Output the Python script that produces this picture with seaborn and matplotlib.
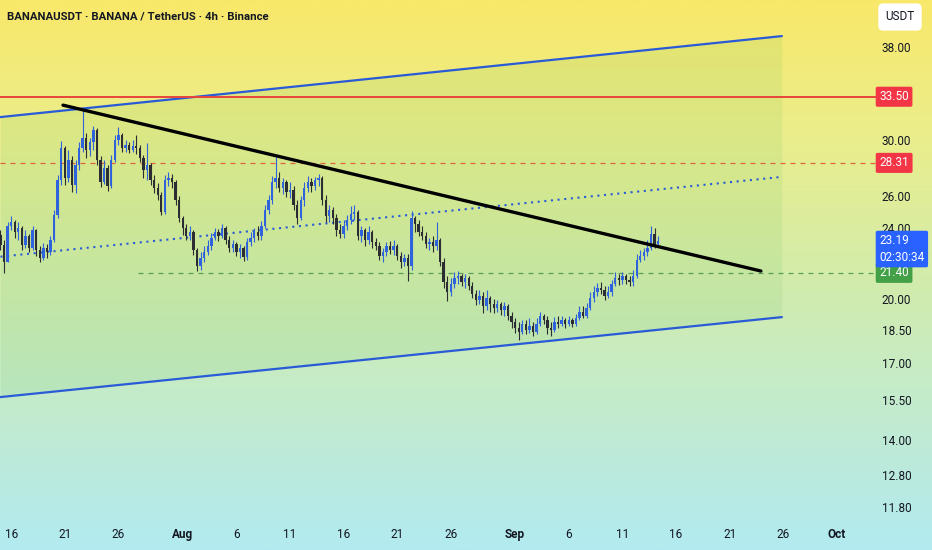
import numpy as np
import pandas as pd
import seaborn as sns
import matplotlib.pyplot as plt
import matplotlib.dates as mdates
import matplotlib.transforms as mtransforms
from matplotlib import font_manager
from matplotlib.colors import LinearSegmentedColormap
from matplotlib.ticker import FuncFormatter, NullLocator

# BANANAUSDT candles (8h steps from Jul 15 2024)
first_open = 23.56
close = [22.97, 22.00, 24.11, 24.36, 23.74, 23.99, 22.97, 23.50, 22.79, 23.86, 22.68, 22.22, 22.79, 22.56, 23.26,
         24.79, 27.10, 29.40, 27.24, 28.51, 26.76, 28.16, 29.40, 30.15, 29.25, 29.85, 30.77, 28.51, 26.96, 27.94,
         26.69, 28.51, 30.00, 30.38, 29.40, 29.62, 29.25, 29.55, 29.40, 28.66, 27.80, 28.16, 27.10, 26.56, 26.09,
         24.98, 27.10, 27.24, 26.96, 25.75, 24.61, 23.99, 23.50, 23.74, 22.68, 21.78, 22.22, 22.56, 22.91, 23.38,
         23.74, 23.50, 23.99, 23.26, 22.79, 23.03, 22.56, 22.79, 22.28, 23.14, 23.38, 23.74, 23.50, 24.11, 25.11,
         25.75, 26.96, 27.24, 26.56, 26.96, 26.29, 26.42, 25.43, 24.61, 25.75, 26.56, 26.96, 26.69, 27.10, 27.24,
         25.75, 24.73, 25.11, 24.61, 23.86, 23.62, 24.11, 24.48, 24.86, 24.98, 23.50, 23.86, 23.26, 23.74, 23.14,
         22.91, 22.33, 22.56, 22.91, 22.68, 22.91, 22.33, 22.00, 22.22, 21.78, 24.61, 24.24, 23.74, 23.50, 23.03,
         23.14, 22.91, 23.26, 22.00, 20.91, 20.38, 20.80, 21.12, 21.22, 20.91, 21.12, 20.70, 20.28, 19.97, 20.18,
         19.67, 20.07, 19.77, 19.57, 19.77, 19.47, 19.67, 19.17, 18.88, 18.59, 18.41, 18.79, 18.50, 18.69, 18.41,
         18.79, 19.17, 18.98, 18.59, 18.50, 18.88, 18.79, 18.98, 18.79, 18.98, 18.79, 19.08, 19.37, 19.17, 19.57,
         20.07, 20.38, 20.59, 20.49, 20.18, 20.38, 20.80, 21.12, 21.01, 21.22, 21.01, 20.91, 21.22, 22.11, 22.33,
         22.56, 22.79, 23.62, 23.03, 23.19]
high = [23.86, 23.26, 24.36, 24.73, 24.48, 24.36, 24.11, 23.86, 23.62, 24.11, 23.92, 22.90, 23.08, 23.03, 23.50,
        25.11, 27.45, 29.92, 29.55, 29.25, 28.80, 28.51, 29.85, 32.62, 30.54, 30.15, 31.08, 30.95, 28.81, 28.51,
        28.16, 28.88, 30.38, 31.00, 30.54, 30.00, 29.85, 30.00, 30.38, 29.62, 28.88, 29.77, 28.30, 27.45, 26.90,
        26.29, 27.45, 27.66, 27.52, 27.10, 26.02, 24.70, 24.24, 24.11, 23.86, 22.79, 22.56, 22.91, 23.26, 23.68,
        23.99, 23.92, 24.24, 24.11, 23.50, 23.26, 23.14, 23.03, 22.91, 23.38, 23.74, 23.99, 24.11, 24.42, 25.43,
        26.09, 27.38, 28.73, 27.66, 27.24, 27.10, 26.96, 26.69, 25.75, 26.02, 26.96, 27.38, 27.24, 27.31, 27.52,
        27.38, 26.09, 25.43, 25.30, 24.86, 24.24, 24.48, 24.79, 25.36, 25.43, 25.11, 24.11, 23.99, 24.11, 23.86,
        23.38, 23.14, 22.79, 23.14, 23.20, 23.26, 23.03, 22.56, 22.45, 22.45, 25.04, 24.73, 24.48, 24.11, 23.74,
        23.38, 23.50, 24.36, 23.38, 22.22, 21.22, 21.12, 21.44, 21.50, 21.33, 21.33, 21.22, 20.91, 20.49, 20.49,
        20.38, 20.49, 20.20, 20.02, 19.97, 19.87, 19.87, 19.77, 19.37, 19.08, 18.88, 18.98, 18.98, 19.08, 18.88,
        19.08, 19.37, 19.27, 19.17, 18.88, 19.12, 19.17, 19.17, 19.08, 19.17, 19.08, 19.27, 19.67, 19.67, 19.82,
        20.38, 20.70, 20.85, 20.91, 20.70, 20.70, 21.01, 21.44, 21.33, 21.44, 21.33, 21.22, 21.55, 22.45, 22.68,
        22.79, 23.26, 24.11, 23.99, 23.50]
low = [22.68, 21.39, 22.00, 23.86, 23.38, 23.26, 22.68, 22.79, 22.56, 22.68, 22.33, 22.00, 22.11, 22.22, 22.39,
       23.14, 24.61, 26.76, 26.76, 26.96, 26.29, 26.22, 27.80, 29.10, 28.66, 28.81, 29.25, 28.16, 26.63, 26.83,
       26.36, 26.56, 28.37, 29.62, 29.10, 29.10, 29.03, 29.10, 28.95, 28.37, 27.24, 27.10, 26.76, 26.22, 25.75,
       24.79, 24.86, 26.69, 26.56, 25.43, 24.36, 23.56, 23.26, 23.26, 22.39, 21.50, 21.55, 22.00, 22.39, 22.68,
       23.26, 23.20, 23.38, 23.03, 22.56, 22.56, 22.33, 22.22, 22.05, 22.11, 22.91, 23.14, 23.26, 23.26, 23.99,
       24.86, 25.49, 26.56, 26.29, 26.16, 25.95, 25.88, 25.11, 24.24, 24.48, 25.36, 26.29, 26.29, 26.42, 26.69,
       25.43, 24.36, 24.36, 24.24, 23.50, 23.38, 23.38, 23.86, 24.24, 24.48, 23.26, 23.14, 22.91, 23.03, 22.79,
       22.68, 22.11, 22.00, 22.33, 22.45, 22.39, 22.11, 21.66, 21.78, 20.96, 21.55, 23.74, 23.50, 23.26, 22.79,
       22.68, 22.56, 22.68, 21.78, 20.59, 19.92, 20.18, 20.59, 20.80, 20.70, 20.59, 20.49, 20.07, 19.72, 19.77,
       19.32, 19.47, 19.37, 19.32, 19.37, 19.22, 19.17, 18.98, 18.59, 18.36, 18.04, 18.31, 18.31, 18.36, 18.22,
       18.31, 18.69, 18.79, 18.31, 18.22, 18.41, 18.59, 18.69, 18.59, 18.69, 18.64, 18.69, 18.98, 19.08, 19.08,
       19.47, 19.87, 20.18, 20.28, 19.97, 20.07, 20.18, 20.70, 20.75, 20.80, 20.80, 20.70, 20.70, 21.12, 22.00,
       22.11, 22.33, 22.68, 22.79, 22.85]

# drawings on the chart
channel_dates = ['2024-07-15 00:00', '2024-09-25 21:00']
channel_top = [31.81, 39.09]
channel_mid = [22.30, 27.32]
channel_bot = [15.60, 19.12]
trend_dates = ['2024-07-20 20:00', '2024-09-23 22:00']
trend_prices = [32.79, 21.50]
resistance = 33.50
mid_level = 28.31
support = 21.40
support_dates = ['2024-07-27 19:00', '2024-10-04 10:00']
last_price = 23.19
countdown = '02:30:34'

ytick_values = [11.8, 12.8, 14, 15.5, 17, 18.5, 20, 24, 26, 30, 34, 38]
xtick_dates = ['2024-07-16', '2024-07-21', '2024-07-26', '2024-08-01', '2024-08-06', '2024-08-11',
               '2024-08-16', '2024-08-21', '2024-08-26', '2024-09-01', '2024-09-06', '2024-09-11',
               '2024-09-16', '2024-09-21', '2024-09-26', '2024-10-01']
xtick_labels = ['16', '21', '26', 'Aug', '6', '11', '16', '21', '26', 'Sep', '6', '11', '16', '21', '26', 'Oct']
months = {'Aug', 'Sep', 'Oct'}

times = pd.date_range('2024-07-15 00:00', periods=len(close), freq='8h')
opens = [first_open] + close[:-1]
df = pd.DataFrame({'time': times, 'open': opens, 'high': high, 'low': low, 'close': close})
df['up'] = df['close'] >= df['open']

sns.set_style('white')
names = {f.name for f in font_manager.fontManager.ttflist}
face = 'Liberation Sans Narrow' if 'Liberation Sans Narrow' in names else 'Roboto'
plt.rcParams['font.family'] = [face, 'DejaVu Sans']
ink = '#131722'

fig = plt.figure(figsize=(9.32, 5.5), dpi=100)

# gradient backdrop
bg = fig.add_axes([0, 0, 1, 1], zorder=0)
cmap = LinearSegmentedColormap.from_list('bg', ['#f9e86a', '#eaee8c', '#d3ecaa', '#c2ebcf', '#b2eaf0'])
bg.imshow(np.linspace(0, 1, 256).reshape(-1, 1), aspect='auto', cmap=cmap, extent=[0, 1, 0, 1])
bg.axis('off')

ax = fig.add_axes([0, 30 / 550, 865 / 932, 520 / 550], zorder=1)
ax.patch.set_alpha(0)
ax.set_yscale('log')

up_col, dn_col = '#2f62dd', '#2b2d33'
cols = np.where(df['up'], up_col, dn_col)
ax.vlines(df['time'], df['low'], df['high'], colors=cols, lw=0.8, zorder=3)
body_lo = df[['open', 'close']].min(axis=1)
body_h = (df['close'] - df['open']).abs().clip(lower=0.02)
ax.bar(df['time'], body_h, bottom=body_lo, width=0.22, color=cols, lw=0, zorder=3)

# parallel channel
cdates = pd.to_datetime(channel_dates)
ax.fill_between(cdates, channel_bot, channel_top, color='#5cb85c', alpha=0.11, lw=0, zorder=1)
chan = pd.DataFrame({'time': list(cdates) * 2, 'price': channel_top + channel_bot,
                     'edge': ['top', 'top', 'bot', 'bot']})
sns.lineplot(data=chan, x='time', y='price', units='edge', estimator=None, color='#2a5bd7', lw=1.6, ax=ax, zorder=2)
ax.plot(cdates, channel_mid, color='#2a5bd7', lw=1.5, ls=(0, (1, 2.2)), zorder=2)

tr = pd.DataFrame({'time': pd.to_datetime(trend_dates), 'price': trend_prices})
sns.lineplot(data=tr, x='time', y='price', color='black', lw=2.4, ax=ax, zorder=4)

ax.axhline(resistance, xmax=1.013, color='#e8453c', lw=1.4, clip_on=False, zorder=2)
ax.axhline(mid_level, xmax=1.013, color='#e0623e', lw=0.9, ls=(0, (4, 4)), clip_on=False, zorder=2)
ax.hlines(support, pd.Timestamp(support_dates[0]), pd.Timestamp(support_dates[1]), color='#5a9e5a', lw=0.9,
          ls=(0, (4, 4)), clip_on=False, zorder=2)

ax.set_xlim(pd.Timestamp('2024-07-14 23:00'), pd.Timestamp('2024-10-03 15:00'))
ax.set_ylim(11.41, 42.85)
ax.set_xlabel('')
ax.set_ylabel('')
for s in ax.spines.values():
    s.set_visible(False)

ax.set_xticks(mdates.date2num(pd.to_datetime(xtick_dates)))
ax.set_xticklabels(xtick_labels)
for lab in ax.get_xticklabels():
    if lab.get_text() in months:
        lab.set_fontweight('bold')
ax.tick_params(axis='x', length=0, pad=6, labelsize=8.5, labelcolor=ink)

ax.yaxis.tick_right()
ax.set_yticks(ytick_values)
ax.yaxis.set_major_formatter(FuncFormatter(lambda v, _: f'{v:.2f}'))
ax.yaxis.set_minor_locator(NullLocator())
ax.tick_params(axis='y', length=0, pad=12, labelsize=8.5, labelcolor=ink)
ax.grid(False)

# price tags on the scale
tag_tf = mtransforms.blended_transform_factory(ax.transAxes, ax.transData)


def price_tag(price, text, color):
    ax.text(1.0165, price, text, transform=tag_tf, ha='left', va='center', color='white', fontsize=8.5,
            bbox=dict(boxstyle='round,pad=0.3,rounding_size=0.15', fc=color, ec='none'), clip_on=False, zorder=6)


price_tag(resistance, f'{resistance:.2f}', '#f23645')
price_tag(mid_level, f'{mid_level:.2f}', '#f23645')
price_tag(support, f'{support:.2f}', '#43a047')
blue_tf = mtransforms.offset_copy(tag_tf, fig=fig, y=7, units='dots')
ax.text(1.0165, last_price, f'{last_price:.2f}\n{countdown}', transform=blue_tf, ha='left', va='top',
        color='white', fontsize=8.5, linespacing=1.35, clip_on=False, zorder=6,
        bbox=dict(boxstyle='round,pad=0.3,rounding_size=0.15', fc='#2962ff', ec='none'))

fig.text(900 / 932, 1 - 17 / 550, 'USDT', ha='center', va='center', fontsize=8.5, color=ink,
         bbox=dict(boxstyle='round,pad=0.6,rounding_size=0.4', fc='white', ec='none'))
fig.text(7 / 932, 1 - 16 / 550, 'BANANAUSDT · BANANA / TetherUS · 4h · Binance', ha='left', va='center',
         fontsize=8.2, fontweight='bold', color=ink)

fig.savefig('out.png', dpi=100)
